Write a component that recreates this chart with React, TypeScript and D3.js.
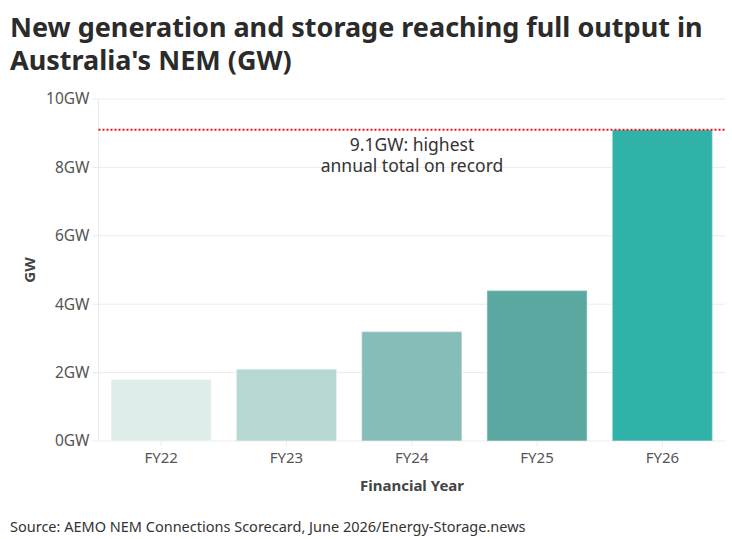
import React from "react";
import * as d3 from "d3";

const categories = ["FY22", "FY23", "FY24", "FY25", "FY26"];
const values = [1.8, 2.1, 3.2, 4.4, 9.1];
const barColors = ["#deecea", "#b7d7d2", "#87bdb9", "#5aa8a0", "#31b2a9"];
const yTicks = [0, 2, 4, 6, 8, 10];
const recordValue = 9.1;
const titleLines = ["New generation and storage reaching full output in", "Australia's NEM (GW)"];
const annotationLines = ["9.1GW: highest", "annual total on record"];
const sourceText = "Source: AEMO NEM Connections Scorecard, June 2026/Energy-Storage.news";

const W = 732;
const H = 539;
const margin = { left: 98.5, right: 7, top: 99, bottom: 98 };
const FONT = "'Noto Sans', sans-serif";

export default function App() {
  const x = d3
    .scaleBand<string>()
    .domain(categories)
    .range([margin.left, W - margin.right])
    .paddingInner(0.2)
    .paddingOuter(0.1);
  const y = d3.scaleLinear().domain([0, 10]).range([H - margin.bottom, margin.top]);
  const x0 = margin.left;
  const x1 = W - margin.right;
  return (
    <div style={{ position: "fixed", left: 0, top: 0, width: W, height: H }}>
      <svg width={W} height={H} style={{ display: "block", background: "#fff" }} fontFamily={FONT}>
        {titleLines.map((t, i) => (
          <text key={i} x={10} y={37 + i * 33} fontSize={27} fontWeight={700} fill="#2b2b2b">
            {t}
          </text>
        ))}
        {yTicks.map((t) => (
          <g key={t}>
            <line x1={x0} x2={x1} y1={y(t)} y2={y(t)} stroke="#ebebeb" strokeWidth={1} />
            <line x1={x0 - 6} x2={x0} y1={y(t)} y2={y(t)} stroke="#ebebeb" strokeWidth={1} />
            <text x={x0 - 9} y={y(t)} dy="0.35em" textAnchor="end" fontSize={15.5} fill="#555">
              {t}GW
            </text>
          </g>
        ))}
        <line x1={x0} x2={x0} y1={y(10)} y2={y(0)} stroke="#ebebeb" strokeWidth={1} />
        {categories.map((c, i) => (
          <g key={c}>
            <rect
              x={x(c)!}
              y={y(values[i])}
              width={x.bandwidth()}
              height={y(0) - y(values[i])}
              fill={barColors[i]}
              stroke="rgba(255,255,255,0.35)"
              strokeWidth={1.5}
            />
            <line
              x1={x(c)! + x.bandwidth() / 2}
              x2={x(c)! + x.bandwidth() / 2}
              y1={y(0)}
              y2={y(0) + 5}
              stroke="#ebebeb"
            />
            <text
              x={x(c)! + x.bandwidth() / 2}
              y={y(0) + 22}
              textAnchor="middle"
              fontSize={15}
              fill="#555"
            >
              {c}
            </text>
          </g>
        ))}
        <line
          x1={x0}
          x2={x1}
          y1={y(recordValue)}
          y2={y(recordValue)}
          stroke="#e8141b"
          strokeWidth={2}
          strokeDasharray="2,2"
        />
        {annotationLines.map((t, i) => (
          <text key={i} x={412} y={151 + i * 20.5} textAnchor="middle" fontSize={17.5} fill="#333">
            {t}
          </text>
        ))}
        <text
          transform={`translate(35,${(y(0) + y(10)) / 2}) rotate(-90)`}
          textAnchor="middle"
          fontSize={15}
          fontWeight={700}
          fill="#444"
        >
          GW
        </text>
        <text x={412} y={491} textAnchor="middle" fontSize={15} fontWeight={700} fill="#444">
          Financial Year
        </text>
        <text x={10} y={532} fontSize={14.5} fill="#333">
          {sourceText}
        </text>
      </svg>
    </div>
  );
}
